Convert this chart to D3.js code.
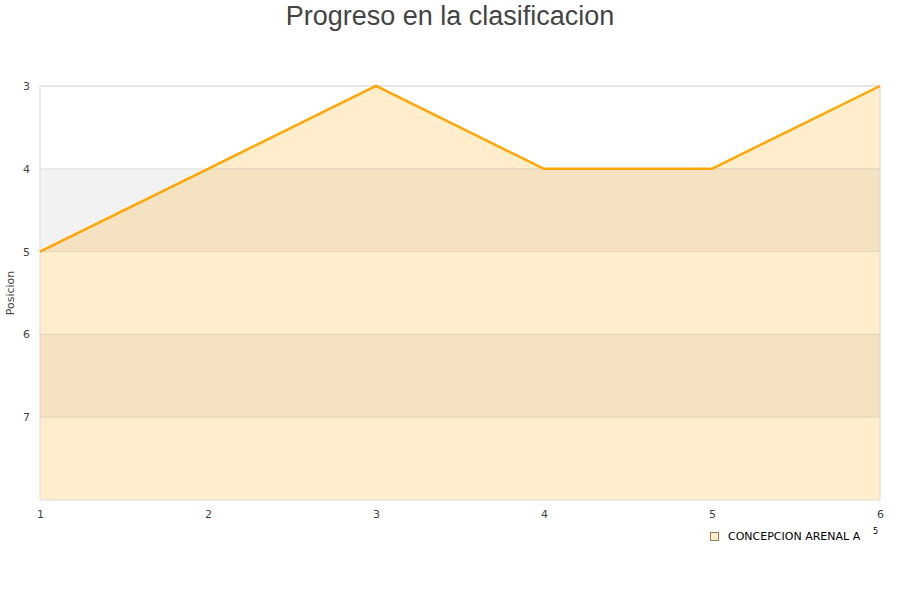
<!DOCTYPE html>
<html>
<head>
<meta charset="utf-8">
<script src="https://cdn.jsdelivr.net/npm/d3@7"></script>
<style>
  body { margin: 0; background: #fff; font-family: "DejaVu Sans", sans-serif; }
</style>
</head>
<body>
<div id="chart"></div>
<script>
let jornadas = [1, 2, 3, 4, 5, 6]
let posiciones = [5, 4, 3, 4, 4, 3]
let yTicks = [3, 4, 5, 6, 7]
let seriesName = "CONCEPCION ARENAL A"

let margin = { left: 40, right: 20, top: 86, bottom: 100 }
let svgW = 900, svgH = 600
let chartW = svgW - margin.left - margin.right
let chartH = svgH - margin.top - margin.bottom

let x = d3.scaleLinear().domain([1, 6]).range([0, chartW])
let y = d3.scaleLinear().domain([3, 8]).range([0, chartH])

let svg = d3.select("#chart").append("svg")
  .attr("width", svgW).attr("height", svgH)

svg.append("text")
  .attr("x", svgW / 2).attr("y", 25)
  .attr("text-anchor", "middle")
  .attr("font-family", "Liberation Sans")
  .attr("font-size", 27)
  .attr("fill", "#444")
  .text("Progreso en la clasificacion")

let g = svg.append("g").attr("transform", `translate(${margin.left},${margin.top})`)

// alternating bands
g.selectAll("rect.band")
  .data(d3.range(3, 8))
  .enter().append("rect")
  .attr("class", "band")
  .attr("x", 0).attr("width", chartW)
  .attr("y", d => y(d)).attr("height", d => y(d + 1) - y(d))
  .attr("fill", (d, i) => i % 2 ? "#f2f2f2" : "#fff")

let pts = jornadas.map((j, i) => ({ j: j, p: posiciones[i] }))

let area = d3.area()
  .x(d => x(d.j))
  .y0(y(8))
  .y1(d => y(d.p))

g.append("path").datum(pts)
  .attr("d", area)
  .attr("fill", "#ffa500")
  .attr("fill-opacity", 0.2)

// gridlines
g.selectAll("line.grid")
  .data(yTicks)
  .enter().append("line")
  .attr("x1", 0).attr("x2", chartW)
  .attr("y1", d => y(d)).attr("y2", d => y(d))
  .attr("stroke", "#999")
  .attr("stroke-opacity", 0.25)

g.append("rect")
  .attr("x", 0).attr("y", 0)
  .attr("width", chartW).attr("height", chartH)
  .attr("fill", "none").attr("stroke", "#d9d9d9")

let line = d3.line().x(d => x(d.j)).y(d => y(d.p))
g.append("path").datum(pts)
  .attr("d", line)
  .attr("fill", "none")
  .attr("stroke", "#ffa500")
  .attr("stroke-width", 2.5)

let yAxis = d3.axisLeft(y).tickValues(yTicks).tickSize(0).tickPadding(10).tickFormat(d3.format("d"))
g.append("g").call(yAxis)
  .call(s => s.select(".domain").remove())
  .selectAll("text").attr("font-size", 11).attr("fill", "#444")
  .attr("font-family", "DejaVu Sans")

let xAxis = d3.axisBottom(x).tickValues(jornadas).tickSize(0).tickPadding(10).tickFormat(d3.format("d"))
g.append("g").attr("transform", `translate(0,${chartH})`).call(xAxis)
  .call(s => s.select(".domain").remove())
  .selectAll("text").attr("font-size", 11).attr("fill", "#444")
  .attr("font-family", "DejaVu Sans")

svg.append("text")
  .attr("transform", `translate(14,${margin.top + chartH / 2}) rotate(-90)`)
  .attr("text-anchor", "middle")
  .attr("font-size", 11)
  .attr("fill", "#444")
  .text("Posicion")

// legend
let lg = svg.append("g").attr("transform", "translate(710,532)")
lg.append("rect")
  .attr("x", 0.5).attr("y", 0.5).attr("width", 8).attr("height", 8)
  .attr("fill", "#ffedcc").attr("stroke", "#a0784a")
lg.append("text")
  .attr("x", 18).attr("y", 8)
  .attr("font-size", 11).attr("fill", "#000")
  .text(seriesName)
lg.append("text")
  .attr("x", 163).attr("y", 2)
  .attr("font-size", 8).attr("fill", "#000")
  .text("5")
</script>
</body>
</html>
